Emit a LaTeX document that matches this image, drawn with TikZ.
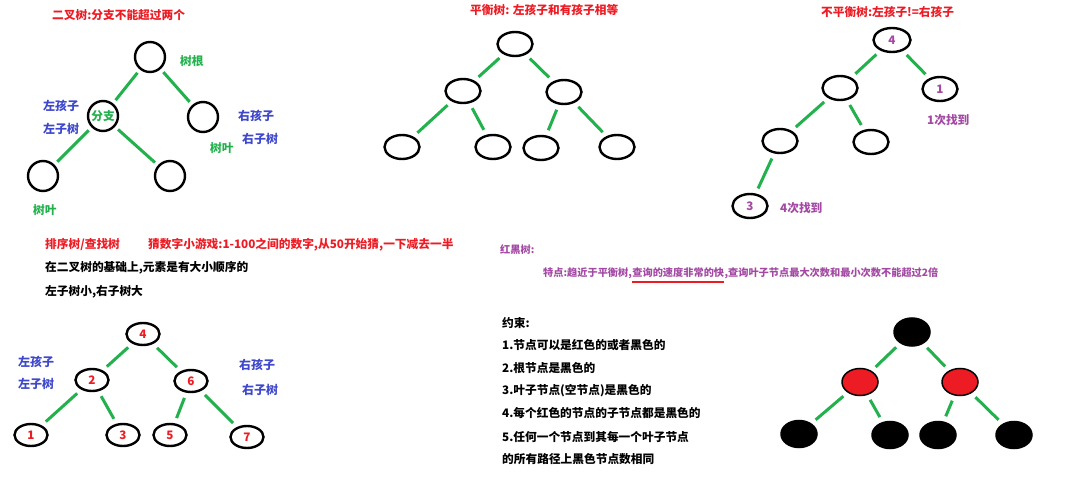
\documentclass[tikz,border=0pt]{standalone}
\usepackage{fontspec}
\setmainfont{Noto Sans CJK SC}
\usetikzlibrary{shapes.geometric}
\definecolor{pred}{RGB}{237,28,36}
\definecolor{pgreen}{RGB}{34,177,76}
\definecolor{pblue}{RGB}{63,72,204}
\definecolor{ppurple}{RGB}{163,73,164}

\begin{document}
\begin{tikzpicture}[x=1pt,y=-1pt,font=\bfseries\fontsize{11.7}{14}\selectfont,
 nd/.style={draw,ellipse,line width=2.4pt,minimum width=35pt,minimum height=24pt,inner sep=0pt},
 rnd/.style={draw,circle,line width=2.4pt,minimum size=30pt,inner sep=0pt},
 rb/.style={draw,ellipse,line width=1.5pt,minimum width=36pt,minimum height=27pt,fill=black},
 edge/.style={draw=pgreen,line width=3pt,shorten <=5.5pt,shorten >=5.5pt},
 txt/.style={anchor=west,inner sep=0pt}]
\useasboundingbox (0,0) rectangle (1066,481);
% binary tree
\node[txt,text=pred] (bin-title) at (52,15) {二叉树:分支不能超过两个};
\node[rnd] (bin-root) at (150,57) {};
\node[rnd,text=pgreen] (bin-l) at (103,116) {分支};
\node[rnd] (bin-r) at (203,117) {};
\node[rnd] (bin-ll) at (43,176) {};
\node[rnd] (bin-lr) at (170,176) {};
\draw[edge,shorten <=4pt,shorten >=4pt] (bin-root)--(bin-l); \draw[edge,shorten <=4pt,shorten >=4pt] (bin-root)--(bin-r);
\draw[edge,shorten <=4pt,shorten >=4pt] (bin-l)--(bin-ll); \draw[edge,shorten <=4pt,shorten >=4pt] (bin-l)--(bin-lr);
\node[txt,text=pgreen] (bin-rootlbl) at (180,61) {树根};
\node[txt,text=pblue,font=\bfseries\fontsize{12}{14}\selectfont] (bin-lc) at (43,106) {左孩子};
\node[txt,text=pblue,font=\bfseries\fontsize{12}{14}\selectfont] (bin-lt) at (43,129) {左子树};
\node[txt,text=pblue,font=\bfseries\fontsize{12}{14}\selectfont] (bin-rc) at (238,116) {右孩子};
\node[txt,text=pblue,font=\bfseries\fontsize{12}{14}\selectfont] (bin-rt) at (242,139) {右子树};
\node[txt,text=pgreen] (bin-leaf1) at (210,148) {树叶};
\node[txt,text=pgreen] (bin-leaf2) at (33,210) {树叶};
% balanced tree
\node[txt,text=pred] (bal-title) at (470,10) {平衡树: 左孩子和有孩子相等};
\node[nd] (bal-root) at (515,44) {};
\node[nd] (bal-l) at (463,91) {};
\node[nd] (bal-r) at (564,92) {};
\node[nd] (bal-ll) at (402,147) {};
\node[nd] (bal-lr) at (493,147) {};
\node[nd] (bal-rl) at (541,148) {};
\node[nd] (bal-rr) at (617,147) {};
\draw[edge] (bal-root)--(bal-l); \draw[edge] (bal-root)--(bal-r);
\draw[edge] (bal-l)--(bal-ll); \draw[edge] (bal-l)--(bal-lr);
\draw[edge] (bal-r)--(bal-rl); \draw[edge] (bal-r)--(bal-rr);
% unbalanced tree
\node[txt,text=pred] (unb-title) at (821,12) {不平衡树:左孩子!=右孩子};
\node[nd,minimum width=37pt,text=ppurple] (unb-root) at (892,40) {4};
\node[nd,text=ppurple] (unb-r) at (940,89) {1};
\node[nd] (unb-l) at (840,88) {};
\node[nd] (unb-ll) at (780,141) {};
\node[nd] (unb-lr) at (871,142) {};
\node[nd,text=ppurple] (unb-lll) at (750,206) {3};
\draw[edge] (unb-root)--(unb-l); \draw[edge] (unb-root)--(unb-r);
\draw[edge] (unb-l)--(unb-ll); \draw[edge] (unb-l)--(unb-lr);
\draw[edge] (unb-ll)--(unb-lll);
\node[txt,text=ppurple] (unb-one) at (927,120) {1次找到};
\node[txt,text=ppurple] (unb-four) at (780,208) {4次找到};
% sorted tree
\node[txt,text=pred] (sort-title) at (45,245) {排序树/查找树};
\node[txt,text=pred] (sort-game) at (148,245) {猜数字小游戏:1-100之间的数字,从50开始猜,一下减去一半};
\node[txt] (sort-line1) at (45,268) {在二叉树的基础上,元素是有大小顺序的};
\node[txt] (sort-line2) at (45,292) {左子树小,右子树大};
\node[nd,minimum width=33pt,minimum height=22pt,text=pred] (sort-4) at (143,334) {4};
\node[nd,minimum width=33pt,minimum height=22pt,text=pred] (sort-2) at (92,380) {2};
\node[nd,minimum width=33pt,minimum height=22pt,text=pred] (sort-6) at (191,381) {6};
\node[nd,minimum width=33pt,minimum height=22pt,text=pred] (sort-1) at (31,435) {1};
\node[nd,minimum width=33pt,minimum height=22pt,text=pred] (sort-3) at (123,435) {3};
\node[nd,minimum width=33pt,minimum height=22pt,text=pred] (sort-5) at (170,435) {5};
\node[nd,minimum width=33pt,minimum height=22pt,text=pred] (sort-7) at (247,437) {7};
\draw[edge] (sort-4)--(sort-2); \draw[edge] (sort-4)--(sort-6);
\draw[edge] (sort-2)--(sort-1); \draw[edge] (sort-2)--(sort-3);
\draw[edge] (sort-6)--(sort-5); \draw[edge] (sort-6)--(sort-7);
\node[txt,text=pblue,font=\bfseries\fontsize{12}{14}\selectfont] (sort-lc) at (18,362) {左孩子};
\node[txt,text=pblue,font=\bfseries\fontsize{12}{14}\selectfont] (sort-lt) at (18,384) {左子树};
\node[txt,text=pblue,font=\bfseries\fontsize{12}{14}\selectfont] (sort-rc) at (239,365) {右孩子};
\node[txt,text=pblue,font=\bfseries\fontsize{12}{14}\selectfont] (sort-rt) at (242,390) {右子树};
% red-black tree
\node[txt,text=ppurple,font=\bfseries\fontsize{10.2}{12}\selectfont] (rb-title) at (500,250) {红黑树:};
\node[txt,text=ppurple,font=\bfseries\fontsize{10.2}{12}\selectfont] (rb-fa) at (543,273) {特点:趋近于平衡树,};
\node[txt,text=ppurple,font=\bfseries\fontsize{10.2}{12}\selectfont] (rb-fb) at (rb-fa.east) {查询的速度非常的快};
\node[txt,text=ppurple,font=\bfseries\fontsize{10.2}{12}\selectfont] (rb-fc) at (rb-fb.east) {,查询叶子节点最大次数和最小次数不能超过2倍};
\draw[pred,line width=2pt] ([yshift=-3.5pt]rb-fb.south west)--([yshift=-3.5pt]rb-fb.south east);
\node[txt] (rb-c0) at (502,323) {约束:};
\node[txt] (rb-c1) at (502,345) {1.节点可以是红色的或者黑色的};
\node[txt] (rb-c2) at (502,368) {2.根节点是黑色的};
\node[txt] (rb-c3) at (502,391) {3.叶子节点(空节点)是黑色的};
\node[txt] (rb-c4) at (502,413) {4.每个红色的节点的子节点都是黑色的};
\node[txt] (rb-c5) at (502,437) {5.任何一个节点到其每一个叶子节点};
\node[txt] (rb-c6) at (502,459) {的所有路径上黑色节点数相同};
\node[rb,minimum height=28pt] (rb-root) at (912,332) {};
\node[rb,fill=pred] (rb-l) at (860,382) {};
\node[rb,fill=pred] (rb-r) at (960,382) {};
\node[rb] (rb-ll) at (799,434) {};
\node[rb] (rb-lr) at (890,435) {};
\node[rb] (rb-rl) at (938,435) {};
\node[rb] (rb-rr) at (1014,435) {};
\draw[edge] (rb-root)--(rb-l); \draw[edge] (rb-root)--(rb-r);
\draw[edge] (rb-l)--(rb-ll); \draw[edge] (rb-l)--(rb-lr);
\draw[edge] (rb-r)--(rb-rl); \draw[edge] (rb-r)--(rb-rr);
\end{tikzpicture}
\end{document}
